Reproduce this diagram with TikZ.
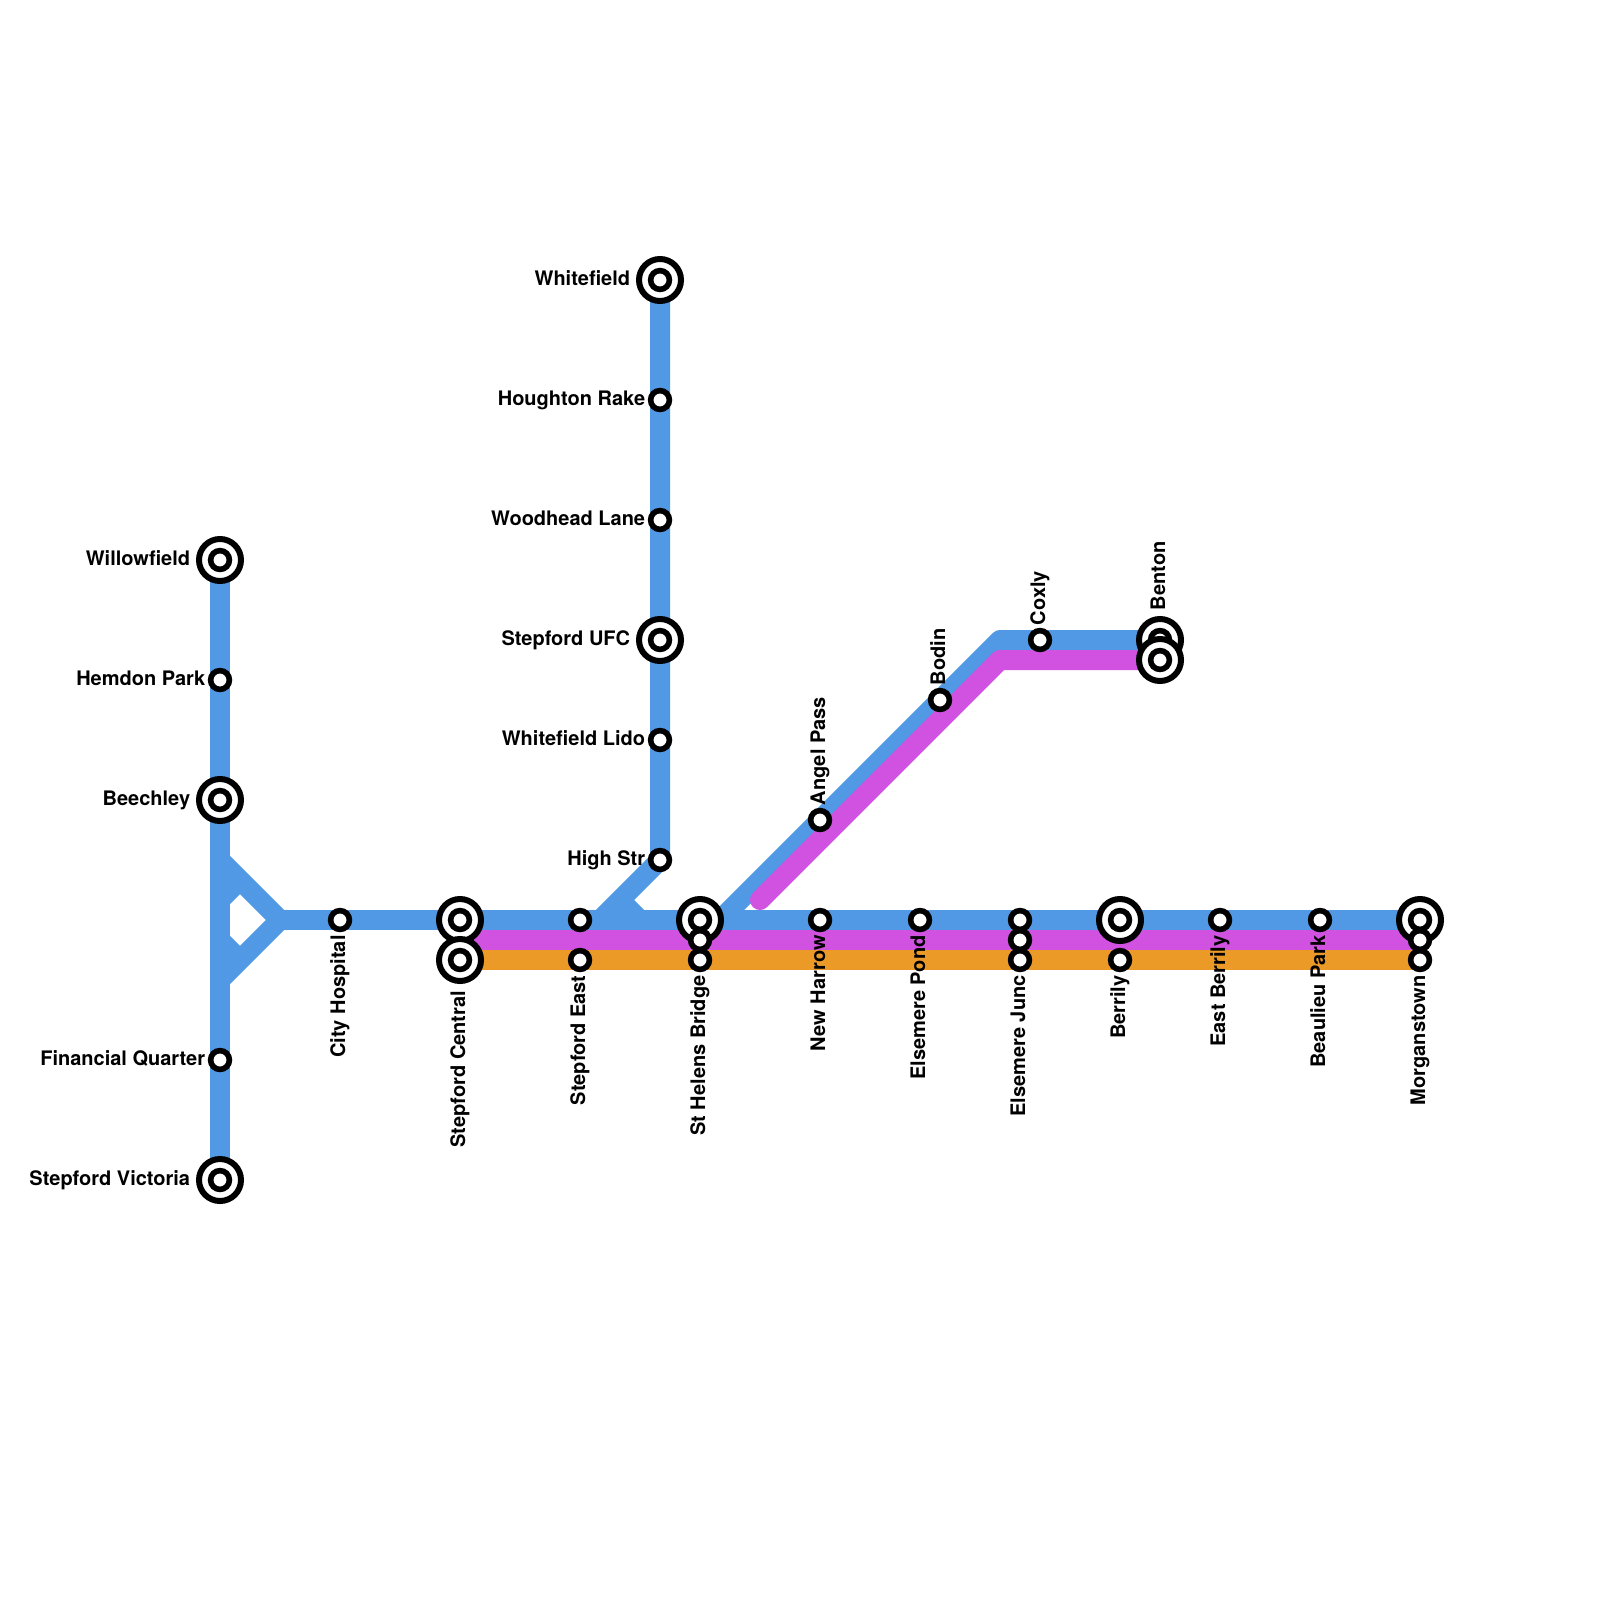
\documentclass[tikz,border=0pt]{standalone}
\usepackage{fontspec}
\setmainfont{TeX Gyre Heros}
\pgfdeclarelayer{lines}
\pgfsetlayers{lines,main}
\definecolor{lblue}{HTML}{5199E4}
\definecolor{lpurple}{HTML}{D152E0}
\definecolor{lorange}{HTML}{EB9A28}
\tikzset{
  sta/.style={circle,draw=black,fill=white,line width=2.8pt,inner sep=0pt,outer sep=0pt,minimum size=9.4pt},
  ring/.style={circle,draw=black,fill=white,line width=3pt,inner sep=0pt,outer sep=0pt,minimum size=21pt},
  lab/.style={font=\bfseries\fontsize{10}{11}\selectfont,inner sep=0pt,text=black,text height=7.2pt,text depth=2.1pt},
  lw/.style={lab,anchor=east},
  ld/.style={lab,rotate=90,anchor=east},
  lu/.style={lab,rotate=90,anchor=west},
  route/.style={line width=10pt,line join=round},
}
\newcommand{\bigsta}[2]{\node[ring] (#1r) at (#2) {};\node[sta] (#1) at (#2) {};}
\begin{document}
\begin{tikzpicture}[x=0.5pt,y=-0.5pt]
\useasboundingbox (0,0) rectangle (1600,1600);
% junction points
\coordinate (t1) at (220,860);
\coordinate (t2) at (280,920);
\coordinate (t3) at (220,980);
\coordinate (t4) at (220,900);
\coordinate (t5) at (240,880);
\coordinate (t6) at (220,940);
\coordinate (t7) at (240,960);
\coordinate (n1) at (600,920);
\coordinate (n2) at (620,900);
\coordinate (n3) at (640,920);
\coordinate (d1) at (720,920);
\coordinate (d2) at (1000,640);
\coordinate (p1) at (760,900);
\coordinate (p2) at (1000,660);
% stations
\bigsta{wil}{220,560}
\node[sta] (hem) at (220,680) {};
\bigsta{bee}{220,800}
\node[sta] (fin) at (220,1060) {};
\bigsta{vic}{220,1180}
\node[sta] (cit) at (340,920) {};
\bigsta{cena}{460,920}
\bigsta{cenb}{460,960}
\node[sta] (easa) at (580,920) {};
\node[sta] (easb) at (580,960) {};
\bigsta{whi}{660,280}
\node[sta] (hou) at (660,400) {};
\node[sta] (woo) at (660,520) {};
\bigsta{ufc}{660,640}
\node[sta] (lid) at (660,740) {};
\node[sta] (hig) at (660,860) {};
\bigsta{hela}{700,920}
\node[sta] (helb) at (700,940) {};
\node[sta] (helc) at (700,960) {};
\node[sta] (har) at (820,920) {};
\node[sta] (pon) at (920,920) {};
\node[sta] (juna) at (1020,920) {};
\node[sta] (junb) at (1020,940) {};
\node[sta] (junc) at (1020,960) {};
\bigsta{bera}{1120,920}
\node[sta] (berb) at (1120,960) {};
\node[sta] (ebe) at (1220,920) {};
\node[sta] (bea) at (1320,920) {};
\bigsta{mora}{1420,920}
\node[sta] (morb) at (1420,940) {};
\node[sta] (morc) at (1420,960) {};
\node[sta] (ang) at (820,820) {};
\node[sta] (bod) at (940,700) {};
\node[sta] (cox) at (1040,640) {};
\bigsta{bena}{1160,640}
\bigsta{benb}{1160,660}
% labels
\node[lw] (l1) at (190.5,560) {Willowfield};
\node[lw] (l2) at (205.5,680) {Hemdon Park};
\node[lw] (l3) at (190.5,800) {Beechley};
\node[lw] (l4) at (205.5,1060) {Financial Quarter};
\node[lw] (l5) at (190.5,1180) {Stepford Victoria};
\node[lw] (l6) at (630.5,280) {Whitefield};
\node[lw] (l7) at (645.5,400) {Houghton Rake};
\node[lw] (l8) at (645.5,520) {Woodhead Lane};
\node[lw] (l9) at (630.5,640) {Stepford UFC};
\node[lw] (l10) at (645.5,740) {Whitefield Lido};
\node[lw] (l11) at (645.5,860) {High Str};
\node[ld] (l12) at (340,935) {City Hospital};
\node[ld] (l13) at (460,990.5) {Stepford Central};
\node[ld] (l14) at (580,975) {Stepford East};
\node[ld] (l15) at (700,975) {St Helens Bridge};
\node[ld] (l16) at (820,935) {New Harrow};
\node[ld] (l17) at (920,935) {Elsemere Pond};
\node[ld] (l18) at (1020,975) {Elsemere Junc};
\node[ld] (l19) at (1120,975) {Berrily};
\node[ld] (l20) at (1220,935) {East Berrily};
\node[ld] (l21) at (1320,935) {Beaulieu Park};
\node[ld] (l22) at (1420,975) {Morganstown};
\node[lu] (l23) at (820,805.5) {Angel Pass};
\node[lu] (l24) at (940,685.5) {Bodin};
\node[lu] (l25) at (1040,625.5) {Coxly};
\node[lu] (l26) at (1160,610.5) {Benton};
% lines
\begin{pgfonlayer}{lines}
\draw[route,lblue] (wil.center) -- (vic.center);
\draw[route,lblue] (t1) -- (t2) -- (t3);
\draw[route,lblue] (t4) -- (t5);
\draw[route,lblue] (t6) -- (t7);
\draw[route,lblue] (t2) -- (cena.center) -- (mora.center);
\draw[route,lblue] (whi.center) -- (hig.center) -- (n1);
\draw[route,lblue] (n2) -- (n3);
\draw[route,lblue] (d1) -- (ang.center) -- (bod.center) -- (d2) -- (cox.center) -- (bena.center);
\draw[route,lpurple,line cap=round] (p1) -- (p2) -- (benb.center);
\draw[route,lpurple] (cena.center |- morb) -- (morb.center);
\draw[route,lorange] (cenb.center) -- (morc.center);
\end{pgfonlayer}
\end{tikzpicture}
\end{document}
